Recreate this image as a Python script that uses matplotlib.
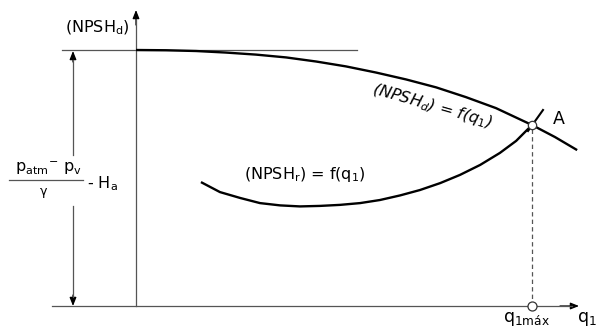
import matplotlib
matplotlib.use("Agg")
import matplotlib.pyplot as plt
from matplotlib.patches import FancyArrowPatch

plt.rcParams['font.family'] = ['DejaVu Sans']
plt.rcParams['mathtext.fontset'] = 'dejavusans'

# ---- data (q in units of q1max, head in units of available NPSH at q=0) ----
q_avail = [0.0, 0.076, 0.152, 0.227, 0.303, 0.379, 0.455, 0.530, 0.606, 0.682,
           0.758, 0.833, 0.909, 1.0, 1.058, 1.114]
npsh_avail = [1.0, 0.999, 0.996, 0.990, 0.982, 0.971, 0.955, 0.936, 0.912, 0.885,
              0.854, 0.816, 0.773, 0.707, 0.660, 0.609]

q_req = [0.164, 0.212, 0.263, 0.313, 0.364, 0.414, 0.465, 0.515, 0.566, 0.616,
         0.667, 0.717, 0.768, 0.818, 0.869, 0.919, 0.960, 1.0]
npsh_req = [0.484, 0.445, 0.422, 0.402, 0.393, 0.389, 0.391, 0.395, 0.402, 0.414,
            0.432, 0.453, 0.480, 0.512, 0.551, 0.598, 0.645, 0.707]

q1max = 1.0
h_top = 1.0

# ---- pixel helpers for layout ----
W, H = 598, 332
X0, Y0 = 136, 306
SX, SY = 396.0, 256.0
def X(px):
    return (px - X0) / SX
def Y(py):
    return (Y0 - py) / SY

fig = plt.figure(figsize=(W / 100, H / 100), dpi=100)
ax = fig.add_axes([0, 0, 1, 1])
ax.set_xlim(X(0), X(W))
ax.set_ylim(Y(H), Y(0))
ax.axis('off')

axc = '#555555'
def arrow(p0, p1):
    ax.add_patch(FancyArrowPatch(p0, p1, arrowstyle='-|>,head_length=5,head_width=2',
                                 color='black', lw=0.9, mutation_scale=1,
                                 shrinkA=0, shrinkB=0))

# axes
ax.plot([X(52), X(572)], [0, 0], color=axc, lw=0.9)
arrow((X(560), 0), (X(579), 0))
ax.plot([0, 0], [0, Y(20)], color=axc, lw=0.9)
arrow((0, Y(25)), (0, Y(10)))
# top reference line
ax.plot([X(62), X(357)], [h_top, h_top], color=axc, lw=0.9)

# double arrow on the left (with gap for text)
ax.plot([X(73), X(73)], [Y(60), Y(155)], color=axc, lw=0.9)
ax.plot([X(73), X(73)], [Y(206), Y(297)], color=axc, lw=0.9)
arrow((X(73), Y(62)), (X(73), Y(51)))
arrow((X(73), Y(295)), (X(73), Y(306)))

# curves
ax.plot(q_avail, npsh_avail, color='black', lw=1.7, solid_capstyle='butt', solid_joinstyle='round')
ax.plot(q_req, npsh_req, color='black', lw=1.7, solid_capstyle='butt', solid_joinstyle='round')

# dashed drop line and circles
ax.plot([q1max, q1max], [0, npsh_req[-1]], color=axc, lw=0.9, ls=(0, (3.5, 2.5)))
ax.plot([q1max], [npsh_req[-1]], 'o', ms=6, mfc='white', mec='#333333', mew=0.9, zorder=5)
ax.plot([q1max], [0], 'o', ms=6.5, mfc='white', mec='#333333', mew=0.9, zorder=5)
# small tick through A
ax.plot([X(528), X(543)], [Y(131), Y(110)], color='black', lw=1.5)

fs = 11.5
ax.text(X(97), Y(28), r'(NPSH$_\mathregular{d}$)', fontsize=fs, ha='center', va='center')
ax.text(X(432), Y(106), r'(NPSH$_{\it d}$) = f(q$_{\it 1}$)', fontsize=fs, ha='center',
        va='center', rotation=-16, style='italic', rotation_mode='anchor')
ax.text(X(305), Y(175), r'(NPSH$_\mathregular{r}$) = f(q$_\mathregular{1}$)', fontsize=fs,
        ha='center', va='center')
ax.text(X(559), Y(119), 'A', fontsize=12.5, ha='center', va='center')

# fraction on the left
ax.text(X(48), Y(168), r'p$_\mathregular{atm}$$^\mathregular{-}$ p$_\mathregular{v}$', fontsize=fs,
        ha='center', va='center')
ax.plot([X(9), X(83)], [Y(180), Y(180)], color=axc, lw=0.9)
ax.text(X(44), Y(191), 'γ', fontsize=9, ha='center', va='center')
ax.text(X(87), Y(184), r'- H$_\mathregular{a}$', fontsize=fs, ha='left', va='center')

ax.text(X(527), Y(319), r'q$_\mathregular{1máx}$', fontsize=12.5, ha='center', va='center')
ax.text(X(577), Y(319), r'q$_\mathregular{1}$', fontsize=12.5, ha='left', va='center')

fig.savefig('out.png', dpi=100)
